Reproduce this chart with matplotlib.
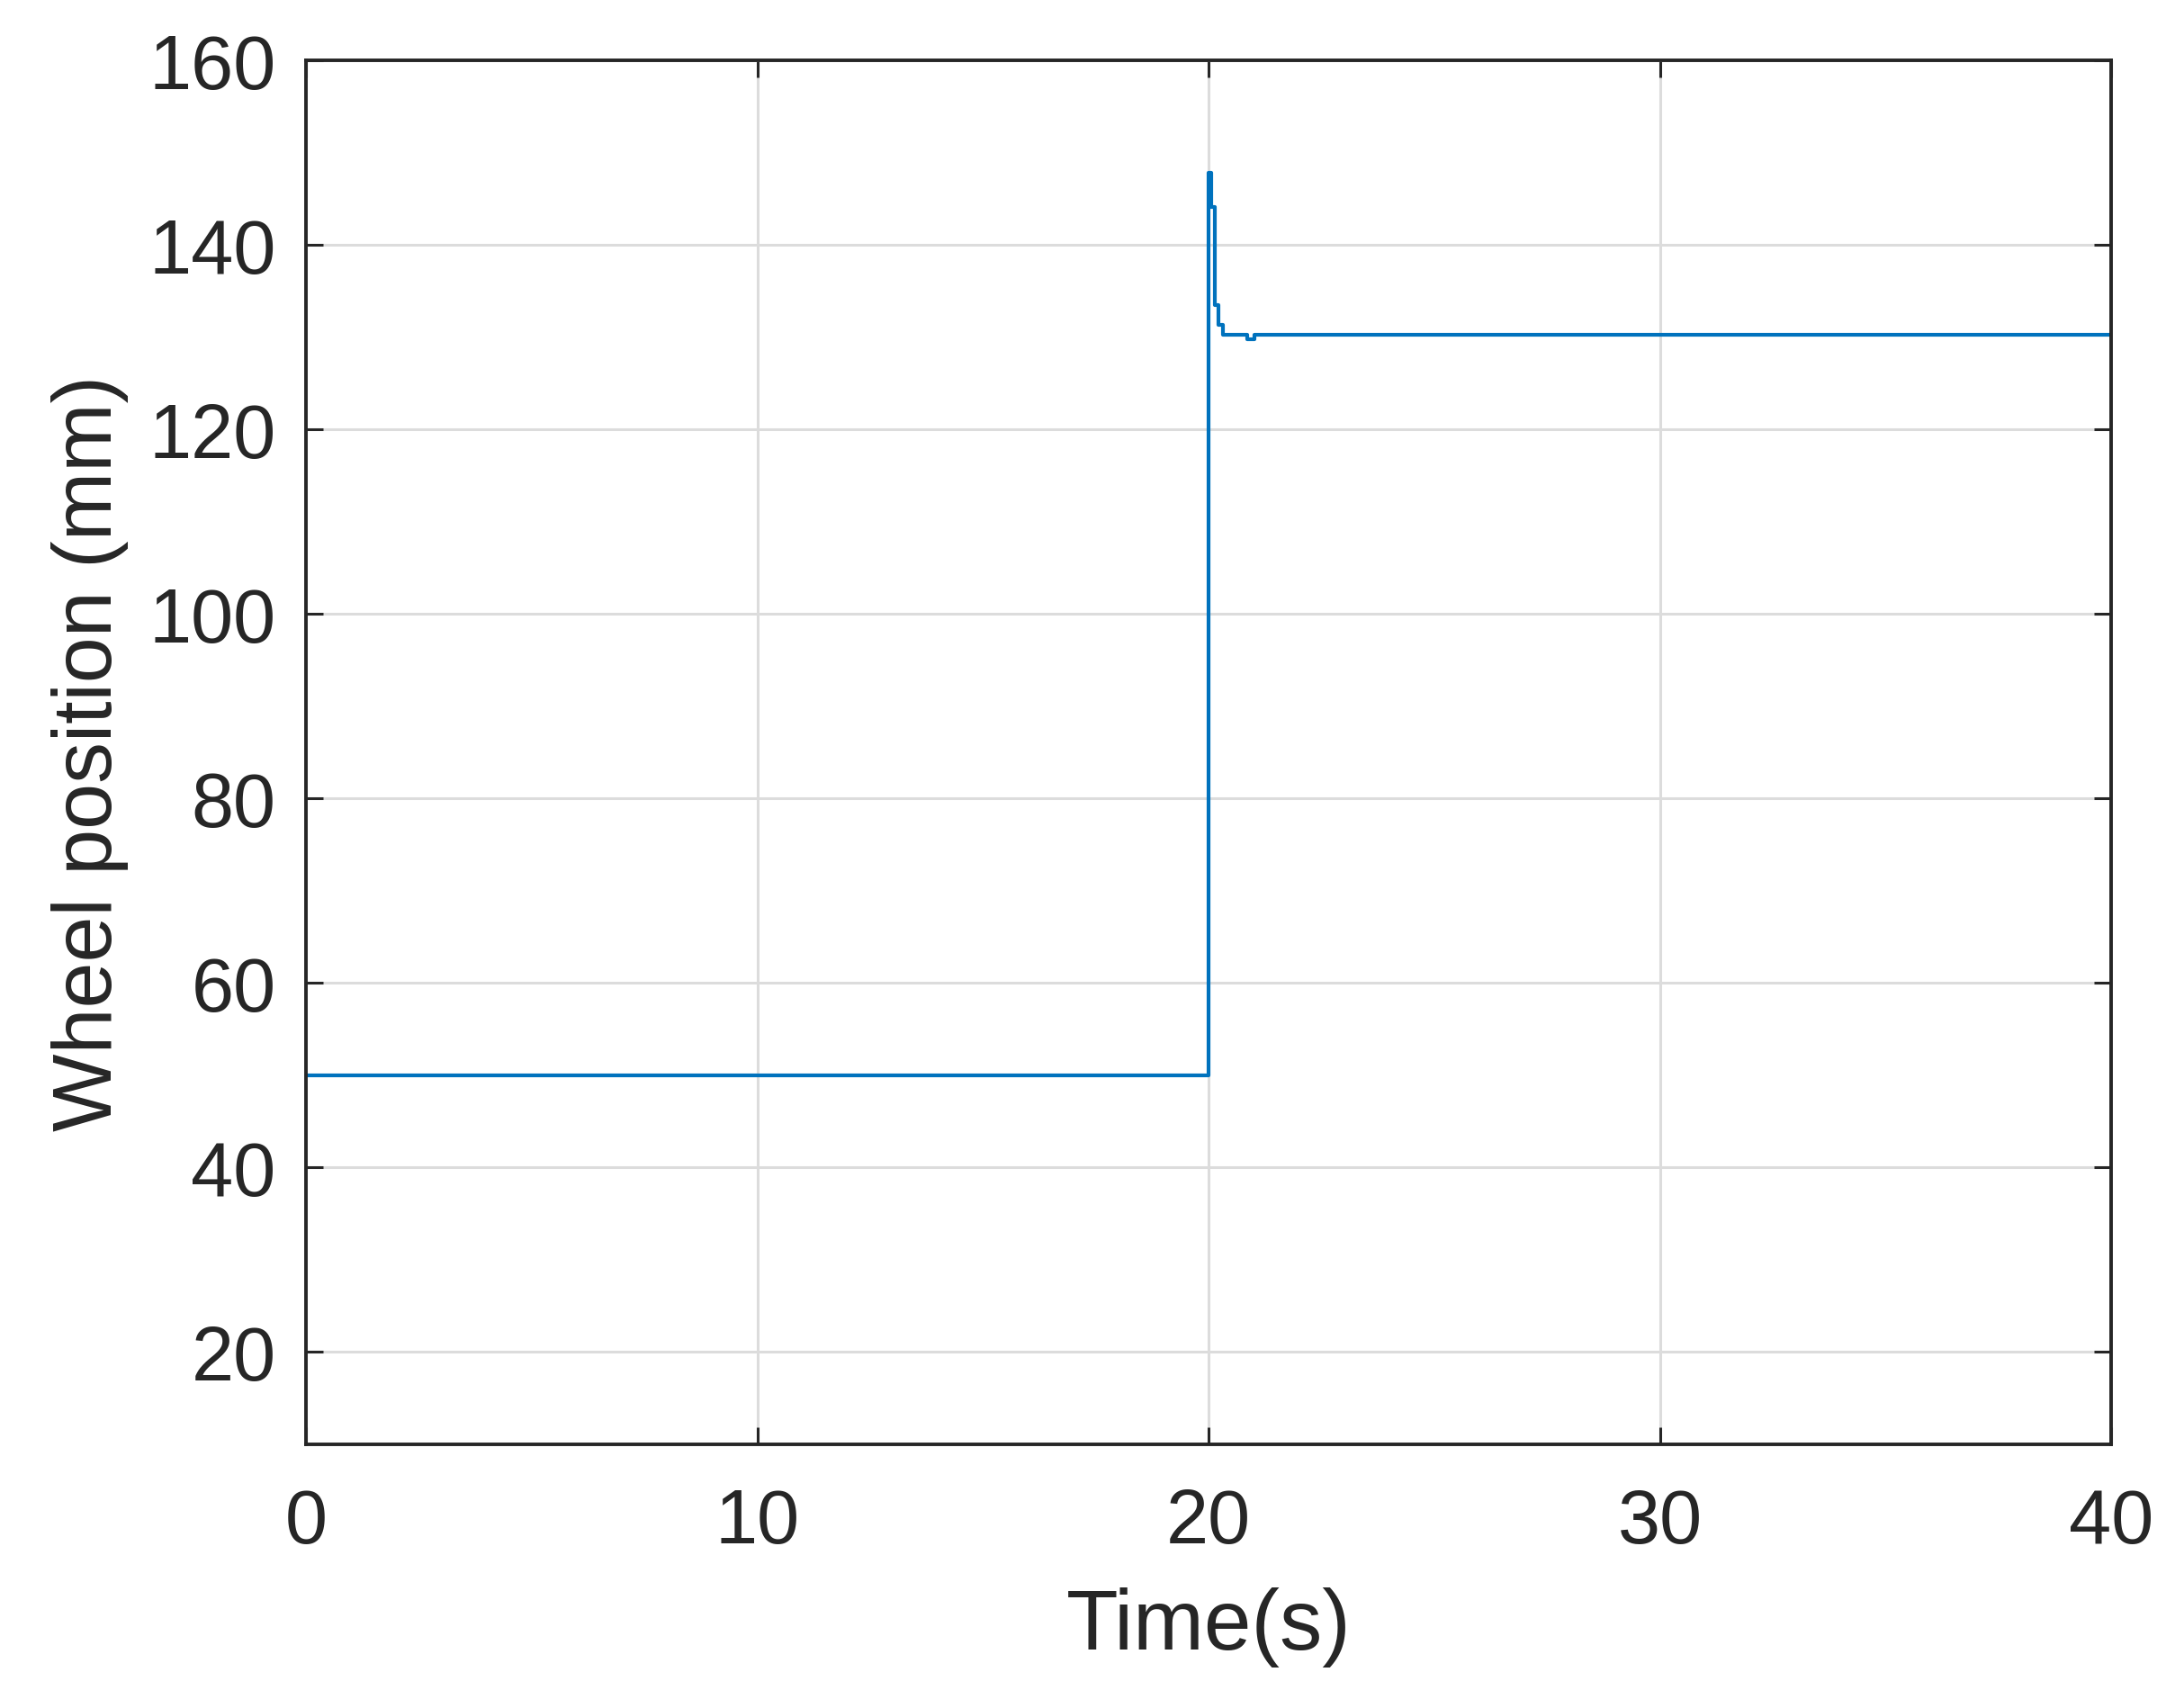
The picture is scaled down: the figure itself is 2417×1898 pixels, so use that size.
import matplotlib
matplotlib.use("Agg")
import matplotlib.pyplot as plt

plt.rcParams['font.family'] = ['Liberation Sans', 'DejaVu Sans']

# Data: step-response of wheel position
time_s = [0, 20.0, 20.05, 20.13, 20.22, 20.32, 20.85, 21.02, 40]
wheel_mm = [50, 147.8, 144.1, 133.5, 131.3, 130.3, 129.8, 130.3, 130.3]

xticks = [0, 10, 20, 30, 40]
yticks = [20, 40, 60, 80, 100, 120, 140, 160]

W, H, DPI = 2417, 1899, 100
fig = plt.figure(figsize=(W / DPI, H / DPI), dpi=DPI)
ax = fig.add_axes([340 / W, 1 - 1606 / H, (2346 - 340) / W, (1606 - 68) / H])

ax.plot(time_s, wheel_mm, drawstyle='steps-post', color='#0072BD', lw=3.0)

ax.set_xlim(0, 40)
ax.set_ylim(10, 160)
ax.set_xticks(xticks)
ax.set_yticks(yticks)
ax.grid(True, color='#dcdcdc', lw=2.2)
ax.set_axisbelow(True)

for s in ax.spines.values():
    s.set_color('#262626')
    s.set_linewidth(2.8)

ax.tick_params(direction='in', length=14, width=2.2, color='#262626',
               labelsize=61, labelcolor='#262626', top=True, right=True)
ax.tick_params(axis='x', pad=34)
ax.tick_params(axis='y', pad=24)

ax.set_xlabel('Time(s)', fontsize=68, color='#262626', labelpad=22)
ax.set_ylabel('Wheel position (mm)', fontsize=66, color='#262626', labelpad=16)

fig.savefig('out.png', dpi=DPI, facecolor='white')
